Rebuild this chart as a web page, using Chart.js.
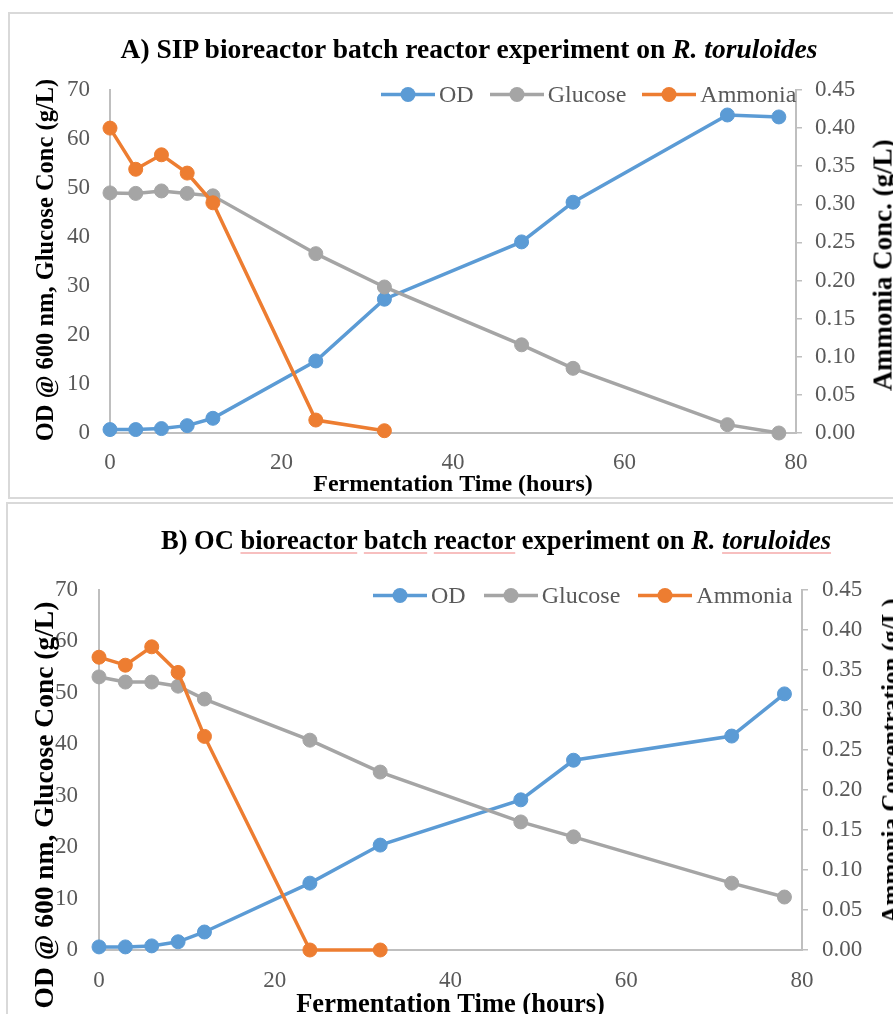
<!DOCTYPE html>
<html>
<head>
<meta charset="utf-8">
<script src="https://cdn.jsdelivr.net/npm/chart.js@4/dist/chart.umd.min.js"></script>
<style>
html,body{margin:0;padding:0;width:893px;height:1014px;overflow:hidden;background:#fff;font-family:"Liberation Serif","Times New Roman",serif;}
.box{position:absolute;border:2px solid #d9d9d9;box-sizing:border-box;}
.cv{position:absolute;left:0;}
.title{position:absolute;font-weight:bold;white-space:nowrap;transform:translate(-50%,-50%);color:#000;}
.vt{position:absolute;font-weight:bold;white-space:nowrap;transform:translate(-50%,-50%) rotate(-90deg);color:#000;}
.legend{position:absolute;display:flex;align-items:center;color:#595959;transform:translateY(-50%);white-space:nowrap;}
.legend svg{display:block;}
.sp{text-decoration:underline;text-decoration-color:#f08080;text-decoration-thickness:1px;text-underline-offset:4px;}
</style>
</head>
<body>
<div class="box" style="left:8px;top:12px;width:900px;height:487px;"></div>
<div class="box" style="left:6px;top:502px;width:900px;height:600px;"></div>

<canvas id="chartA" class="cv" width="893" height="500" style="top:0;width:893px;height:500px;"></canvas>
<canvas id="chartB" class="cv" width="893" height="530" style="top:500px;width:893px;height:530px;"></canvas>

<div class="title" style="left:469px;top:49px;font-size:27.5px;">A) SIP bioreactor batch reactor experiment on <i>R. toruloides</i></div>
<div class="title" style="left:496px;top:540px;font-size:26.5px;">B) OC <span class="sp">bioreactor</span> <span class="sp">batch</span> <span class="sp">reactor</span> experiment on <i>R. <span class="sp">toruloides</span></i></div>

<div class="vt" style="left:45px;top:260px;font-size:24.5px;">OD @ 600 nm, Glucose Conc (g/L)</div>
<div class="vt" style="left:883px;top:265px;font-size:27px;">Ammonia Conc. (g/L)</div>
<div class="vt" style="left:44px;top:805px;font-size:27.5px;">OD @ 600 nm, Glucose Conc (g/L)</div>
<div class="vt" style="left:891px;top:761px;font-size:25px;">Ammonia Concentration (g/L)</div>

<div id="legendA" class="legend" style="left:381px;top:94px;font-size:24px;"></div>
<div id="legendB" class="legend" style="left:373px;top:595px;font-size:24px;"></div>

<script>
// ---------- data ----------
const hoursA = [0, 3, 6, 9, 12, 24, 32, 48, 54, 72, 78];
const odA = [0.7, 0.7, 0.9, 1.5, 3.0, 14.7, 27.3, 39.0, 47.1, 64.9, 64.5];
const glucoseA = [49.0, 48.9, 49.4, 48.9, 48.4, 36.6, 29.8, 18.0, 13.2, 1.7, 0.0];
const ammoniaHoursA = [0, 3, 6, 9, 12, 24, 32];
const ammoniaA = [0.400, 0.346, 0.365, 0.341, 0.302, 0.017, 0.003];

const hoursB = [0, 3, 6, 9, 12, 24, 32, 48, 54, 72, 78];
const odB = [0.6, 0.6, 0.8, 1.6, 3.5, 13.0, 20.4, 29.2, 36.9, 41.6, 49.8];
const glucoseB = [53.1, 52.1, 52.1, 51.3, 48.8, 40.8, 34.6, 24.9, 22.0, 13.0, 10.3];
const ammoniaHoursB = [0, 3, 6, 9, 12, 24, 32];
const ammoniaB = [0.366, 0.356, 0.379, 0.347, 0.267, 0.0, 0.0];

const xTicks = [0, 20, 40, 60, 80];
const leftTicks = [0, 10, 20, 30, 40, 50, 60, 70];
const rightTicks = [0, 0.05, 0.10, 0.15, 0.20, 0.25, 0.30, 0.35, 0.40, 0.45];

const seriesNames = ['OD', 'Glucose', 'Ammonia'];
const seriesColors = ['#5B9BD5', '#A5A5A5', '#ED7D31'];
const xTitle = 'Fermentation Time (hours)';

// ---------- styling ----------
const FONT = "'Liberation Serif', 'Times New Roman', serif";
const AXIS = '#bfbfbf';
const TICKC = '#595959';

function pts(xs, ys) { return xs.map((x, i) => ({x: x, y: ys[i]})); }
function setTicks(list) { return s => { s.ticks = list.map(v => ({value: v})); }; }

function ds(label, data, color, axis, order) {
  return {
    label, data, yAxisID: axis, order,
    borderColor: color, backgroundColor: color,
    pointBackgroundColor: color, pointBorderColor: color,
    borderWidth: 3.5, pointRadius: 7, pointBorderWidth: 1,
    tension: 0, clip: false
  };
}

function makeChart(id, L) {
  const ctx = document.getElementById(id);
  return new Chart(ctx, {
    type: 'line',
    data: {
      datasets: [
        ds(seriesNames[2], pts(L.ah, L.am), seriesColors[2], 'y1', 0),
        ds(seriesNames[1], pts(L.h, L.gl), seriesColors[1], 'y', 1),
        ds(seriesNames[0], pts(L.h, L.od), seriesColors[0], 'y', 2)
      ]
    },
    options: {
      responsive: false,
      animation: false,
      devicePixelRatio: 1,
      layout: {padding: {top: L.top, left: 0, right: 0, bottom: 0}},
      plugins: {legend: {display: false}, tooltip: {enabled: false}, title: {display: false}},
      scales: {
        x: {
          type: 'linear', min: 0, max: 80,
          afterBuildTicks: setTicks(xTicks),
          grid: {display: false, drawTicks: false},
          border: {display: true, color: AXIS, width: 2},
          ticks: {font: {family: FONT, size: 23}, color: TICKC, padding: L.xPad, maxRotation: 0, autoSkip: false},
          title: {display: true, text: xTitle, color: '#000',
                  font: {family: FONT, size: L.xTitleSize, weight: 'bold'},
                  padding: {top: 0, bottom: L.xTitlePad}},
          afterFit: s => { s.height = L.xH; }
        },
        y: {
          type: 'linear', position: 'left', min: 0, max: 70,
          afterBuildTicks: setTicks(leftTicks),
          grid: {display: false, drawTicks: false},
          border: {display: true, color: AXIS, width: 2},
          ticks: {font: {family: FONT, size: 23}, color: TICKC, padding: L.yPad},
          afterFit: s => { s.width = L.yW; }
        },
        y1: {
          type: 'linear', position: 'right', min: 0, max: 0.45,
          afterBuildTicks: setTicks(rightTicks),
          grid: {display: true, drawOnChartArea: false, drawTicks: true, tickLength: 6, color: AXIS, lineWidth: 1.5},
          border: {display: true, color: AXIS, width: 2},
          ticks: {font: {family: FONT, size: 23}, color: TICKC, padding: L.y1Pad, callback: v => Number(v).toFixed(2)},
          afterFit: s => { s.width = L.y1W; }
        }
      }
    }
  });
}

makeChart('chartA', {h: hoursA, od: odA, gl: glucoseA, ah: ammoniaHoursA, am: ammoniaA,
  top: 90, xH: 67, yW: 110, y1W: 97, xPad: 16, yPad: 20, y1Pad: 13, xTitleSize: 24, xTitlePad: 1});
makeChart('chartB', {h: hoursB, od: odB, gl: glucoseB, ah: ammoniaHoursB, am: ammoniaB,
  top: 90, xH: 80, yW: 99, y1W: 91, xPad: 17, yPad: 21, y1Pad: 14, xTitleSize: 26.5, xTitlePad: 9});

// ---------- HTML legends ----------
function buildLegend(id, gaps) {
  const el = document.getElementById(id);
  seriesNames.forEach((name, i) => {
    const c = seriesColors[i];
    const wrap = document.createElement('div');
    wrap.style.display = 'flex';
    wrap.style.alignItems = 'center';
    wrap.style.marginRight = (i < 2 ? gaps[1] : 0) + 'px';
    wrap.innerHTML = '<svg width="54" height="16"><line x1="0" y1="8" x2="54" y2="8" stroke="' + c +
      '" stroke-width="3.5"/><circle cx="27" cy="8" r="7.5" fill="' + c + '"/></svg>' +
      '<span style="margin-left:' + gaps[0] + 'px">' + name + '</span>';
    el.appendChild(wrap);
  });
}
buildLegend('legendA', [4, 16]);
buildLegend('legendB', [4, 18]);
</script>
</body>
</html>
